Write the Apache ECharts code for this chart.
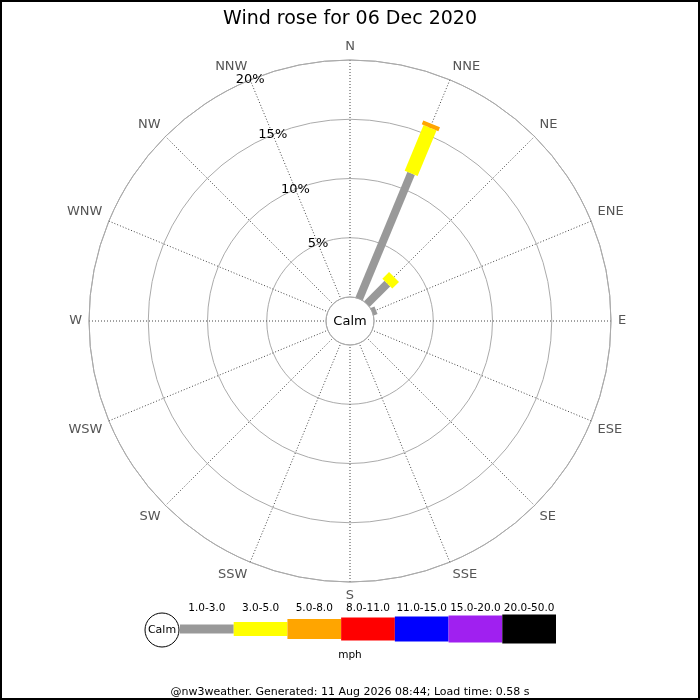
<!DOCTYPE html>
<html>
<head>
<meta charset="utf-8">
<script src="https://cdn.jsdelivr.net/npm/echarts@6/dist/echarts.min.js"></script>
<style>
  html, body { margin: 0; padding: 0; background: #fff; }
  #chart { width: 700px; height: 700px; }
</style>
</head>
<body>
<div id="chart"></div>
<script>
// compass points, clockwise from north
const directions = ['N', 'NNE', 'NE', 'ENE', 'E', 'ESE', 'SE', 'SSE',
  'S', 'SSW', 'SW', 'WSW', 'W', 'WNW', 'NW', 'NNW'];
const directionDegrees = [0, 22.5, 45, 67.5, 90, 112.5, 135, 157.5,
  180, 202.5, 225, 247.5, 270, 292.5, 315, 337.5];

// speed bins (mph) and % of time per direction for each bin
const speedBins = ['1.0-3.0', '3.0-5.0', '5.0-8.0', '8.0-11.0', '11.0-15.0', '15.0-20.0', '20.0-50.0'];
const bin1to3 = [0, 11.46, 2.43, 0.35, 0, 0, 0, 0, 0, 0, 0, 0, 0, 0, 0, 0];
const bin3to5 = [0, 4.17, 0.8, 0, 0, 0, 0, 0, 0, 0, 0, 0, 0, 0, 0, 0];
const bin5to8 = [0, 0.35, 0, 0, 0, 0, 0, 0, 0, 0, 0, 0, 0, 0, 0, 0];
const bin8to11 = [0, 0, 0, 0, 0, 0, 0, 0, 0, 0, 0, 0, 0, 0, 0, 0];
const bin11to15 = [0, 0, 0, 0, 0, 0, 0, 0, 0, 0, 0, 0, 0, 0, 0, 0];
const bin15to20 = [0, 0, 0, 0, 0, 0, 0, 0, 0, 0, 0, 0, 0, 0, 0, 0];
const bin20to50 = [0, 0, 0, 0, 0, 0, 0, 0, 0, 0, 0, 0, 0, 0, 0, 0];
const binValues = [bin1to3, bin3to5, bin5to8, bin8to11, bin11to15, bin15to20, bin20to50];

const binColors = ['#999999', '#ffff00', '#ffa500', '#ff0000', '#0000ff', '#a020f0', '#000000'];
const barWidths = [8, 14, 18, 22, 26, 30, 34];      // px, petal width per bin
const legendHeights = [9, 14, 20, 23, 25, 27, 29];  // px, legend block height per bin

const FONT = 'DejaVu Sans';
const CENTER = [350, 321];
const RADIUS = [24, 261];

// stack the bins outward for every direction
let running = directions.map(() => 0);
const petalSeries = binValues.map((vals, b) => {
  const data = vals.map((v, i) => {
    const item = [running[i], running[i] + v, directionDegrees[i]];
    running[i] += v;
    return item;
  });
  return {
    type: 'custom',
    name: speedBins[b],
    coordinateSystem: 'polar',
    polarIndex: 0,
    encode: { radius: [0, 1], angle: 2 },
    data: data,
    silent: true,
    renderItem: function (params, api) {
      const r0 = api.value(0), r1 = api.value(1), ang = api.value(2);
      if (r1 - r0 <= 0) return null;
      const p0 = api.coord([r0, ang]);
      const p1 = api.coord([r1, ang]);
      const dx = p1[0] - p0[0], dy = p1[1] - p0[1];
      const len = Math.sqrt(dx * dx + dy * dy);
      const hw = barWidths[b] / 2;
      const nx = -dy / len * hw, ny = dx / len * hw;
      return {
        type: 'polygon',
        shape: {
          points: [
            [p0[0] + nx, p0[1] + ny], [p1[0] + nx, p1[1] + ny],
            [p1[0] - nx, p1[1] - ny], [p0[0] - nx, p0[1] - ny]
          ]
        },
        style: { fill: binColors[b] }
      };
    }
  };
});

const chart = echarts.init(document.getElementById('chart'));
chart.setOption({
  animation: false,
  textStyle: { fontFamily: FONT },
  title: [{
    text: 'Wind rose for 06 Dec 2020',
    left: 'center',
    top: 5,
    textStyle: { fontFamily: FONT, fontSize: 19, fontWeight: 'normal', color: '#000' }
  }, {
    text: 'mph',
    left: 'center',
    top: 645,
    textStyle: { fontFamily: FONT, fontSize: 10.5, fontWeight: 'normal', color: '#000' }
  }, {
    text: '@nw3weather. Generated: 11 Aug 2026 08:44; Load time: 0.58 s',
    left: 'center',
    top: 682,
    textStyle: { fontFamily: FONT, fontSize: 11, fontWeight: 'normal', color: '#000' }
  }],
  polar: [
    { center: CENTER, radius: RADIUS },
    { center: CENTER, radius: RADIUS }
  ],
  angleAxis: [{
    polarIndex: 0,
    type: 'value',
    min: 0,
    max: 360,
    interval: 22.5,
    startAngle: 90,
    clockwise: true,
    axisLine: { show: true, lineStyle: { color: '#aaaaaa', width: 1 } },
    axisTick: { show: false },
    axisLabel: {
      margin: 7,
      color: '#555555',
      fontSize: 13,
      fontFamily: FONT,
      formatter: v => directions[Math.round(v / 22.5) % 16]
    },
    splitLine: { show: true, lineStyle: { color: '#444444', width: 1, type: [1, 2] } }
  }, {
    // only used to point the % labels along NNW
    polarIndex: 1,
    type: 'value',
    min: 0,
    max: 360,
    startAngle: 112.5,
    show: false
  }],
  radiusAxis: [{
    polarIndex: 0,
    type: 'value',
    min: 0,
    max: 20,
    interval: 5,
    axisLine: { show: false },
    axisTick: { show: false },
    axisLabel: { show: false },
    splitLine: { show: true, lineStyle: { color: '#aaaaaa', width: 1 } }
  }, {
    polarIndex: 1,
    type: 'value',
    min: 0,
    max: 20,
    interval: 5,
    axisLine: { show: false },
    axisTick: { show: false },
    splitLine: { show: false },
    axisLabel: {
      margin: 0,
      rotate: 0,
      align: 'center',
      verticalAlign: 'middle',
      color: '#000',
      fontSize: 13,
      fontFamily: FONT,
      formatter: v => (v === 0 ? '' : v + '%')
    }
  }],
  grid: { left: 180, top: 614, width: 376, height: 30 },
  xAxis: {
    type: 'category',
    data: speedBins,
    position: 'top',
    axisLine: { show: false },
    axisTick: { show: false },
    axisLabel: { interval: 0, margin: 0, color: '#000', fontSize: 10.5, fontFamily: FONT }
  },
  yAxis: { type: 'value', min: 0, max: 1, show: false },
  series: petalSeries.concat([{
    type: 'custom',
    coordinateSystem: 'cartesian2d',
    silent: true,
    data: speedBins.map(b => [b, 0.5]),
    renderItem: function (params, api) {
      const i = params.dataIndex;
      const c = api.coord([api.value(0), 0.5]);
      const w = api.size([1, 0])[0];
      const h = legendHeights[i];
      return {
        type: 'rect',
        shape: { x: c[0] - w / 2, y: c[1] - h / 2, width: w, height: h },
        style: { fill: binColors[i] }
      };
    }
  }]),
  graphic: [{
    type: 'rect',
    silent: true,
    shape: { x: 1, y: 1, width: 698, height: 698 },
    style: { fill: 'none', stroke: '#000', lineWidth: 2 },
    z: 100
  }, {
    type: 'text',
    silent: true,
    x: CENTER[0],
    y: CENTER[1] + 1,
    style: { text: 'Calm', font: '13px "DejaVu Sans"', fill: '#000', align: 'center', verticalAlign: 'middle' },
    z: 100
  }, {
    type: 'circle',
    silent: true,
    shape: { cx: 162, cy: 630, r: 17 },
    style: { fill: '#fff', stroke: '#000', lineWidth: 1 },
    z: 100
  }, {
    type: 'text',
    silent: true,
    x: 162,
    y: 630,
    style: { text: 'Calm', font: '11px "DejaVu Sans"', fill: '#000', align: 'center', verticalAlign: 'middle' },
    z: 101
  }]
});
window.onresize = chart.resize;
</script>
</body>
</html>
